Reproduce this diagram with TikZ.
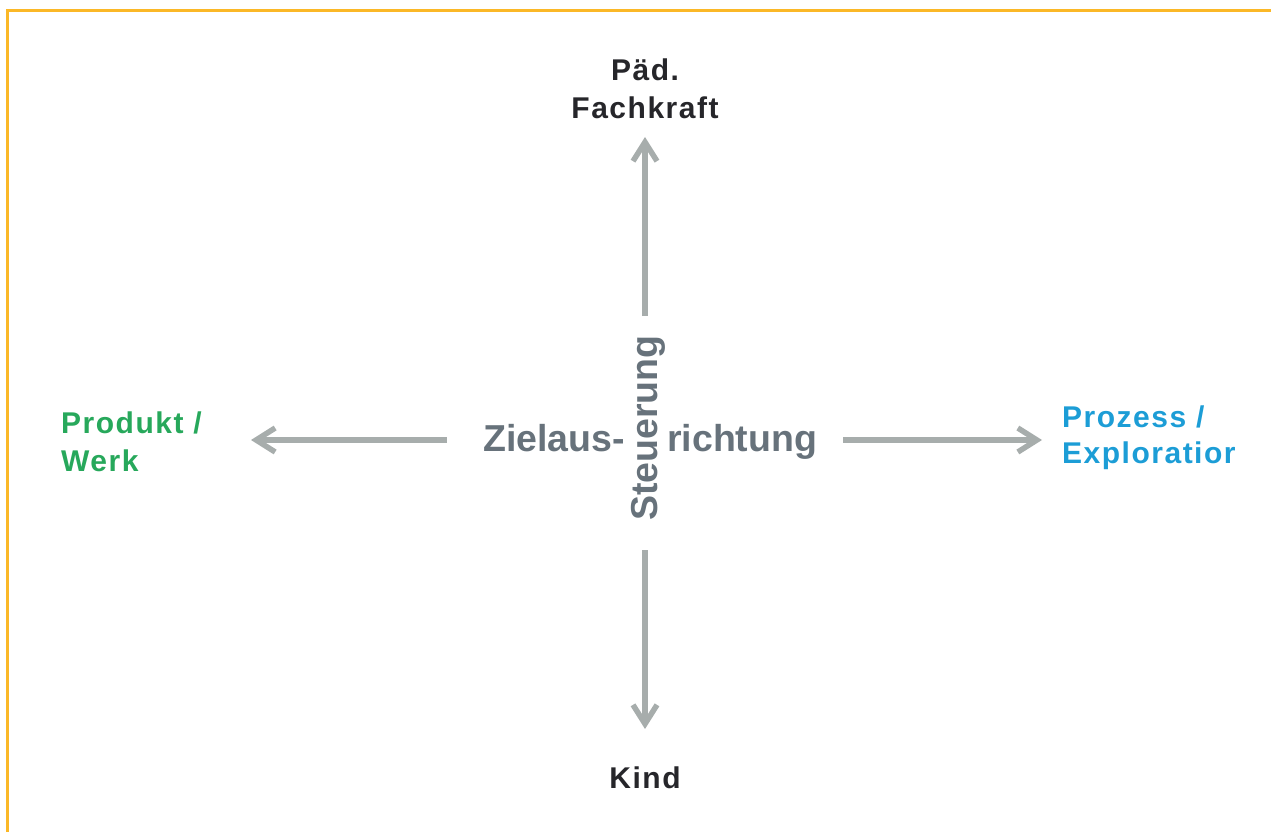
\documentclass[tikz,border=0pt]{standalone}
\usepackage{fontspec}
\setmainfont{Liberation Sans}
\newfontfamily\lblfont[LetterSpace=5]{Liberation Sans}
\usetikzlibrary{arrows.meta}
\definecolor{frameorange}{HTML}{FBB827}
\definecolor{arrowgrey}{HTML}{A7ADAC}
\definecolor{axisgrey}{HTML}{67727B}
\definecolor{labeldark}{HTML}{26262A}
\definecolor{labelgreen}{HTML}{27A85B}
\definecolor{labelblue}{HTML}{1C9DD6}
\begin{document}
\begin{tikzpicture}[x=1pt,y=-1pt,
  axisarrow/.style={draw=arrowgrey,line width=5.5pt,-{Straight Barb[length=19pt,width=24pt,line width=5.5pt]}},
  pole/.style={font=\lblfont\bfseries\fontsize{30}{36}\selectfont,inner sep=0pt,anchor=base west},
  axislabel/.style={font=\bfseries\fontsize{37.5}{40}\selectfont,text=axisgrey,inner sep=0pt,anchor=base}]
\useasboundingbox (0,0) rectangle (1271,832);
\draw[frameorange,line width=3pt] (7.5,832) -- (7.5,10.5) -- (1271,10.5);
% poles
\node[pole,anchor=base,text=labeldark] (pad) at (645,81) {Päd.};
\node[pole,anchor=base,text=labeldark] (fach) at (645,119) {Fachkraft};
\node[pole,anchor=base,text=labeldark] (kind) at (645,788) {Kind};
\node[pole,text=labelgreen] (prod) at (61,433) {Produkt /};
\node[pole,text=labelgreen] (werk) at (61,471) {Werk};
\node[pole,text=labelblue] (proz) at (1062,427) {Prozess /};
\node[pole,text=labelblue] (expl) at (1062,463) {Exploratior};
% centre labels
\node[axislabel,anchor=base east] (ziel) at (625,451) {Zielaus-};
\node[axislabel,anchor=base west] (richt) at (667,451) {richtung};
\node[axislabel,rotate=90] (steu) at (657,428) {Steuerung};
% arrow anchors
\coordinate (upS) at (645,316);
\coordinate (upE) at (645,137);
\coordinate (dnS) at (645,550);
\coordinate (dnE) at (645,729);
\coordinate (lfS) at (447,440);
\coordinate (lfE) at (251,440);
\coordinate (rtS) at (843,440);
\coordinate (rtE) at (1042,440);
\draw[axisarrow] (upS) -- (upE);
\draw[axisarrow] (dnS) -- (dnE);
\draw[axisarrow] (lfS) -- (lfE);
\draw[axisarrow] (rtS) -- (rtE);
\end{tikzpicture}
\end{document}
